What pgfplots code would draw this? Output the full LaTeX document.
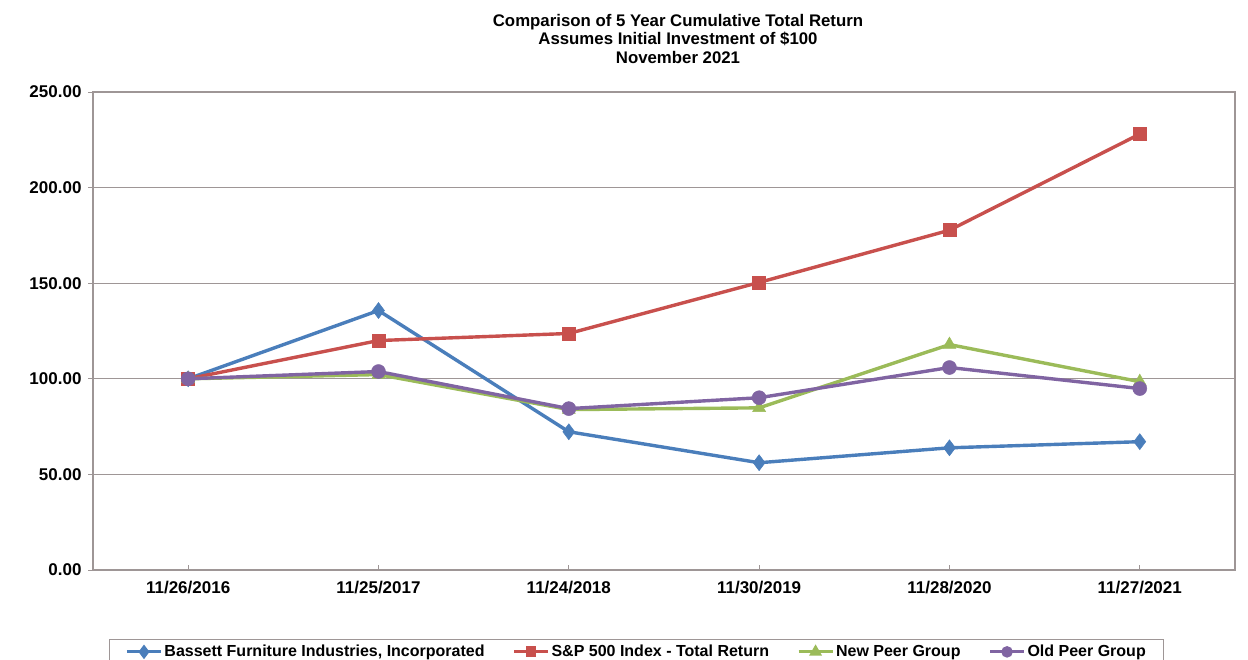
\documentclass[border=0pt]{standalone}
\usepackage{pgfplots}
\pgfplotsset{compat=1.18}
\usepackage{fontspec}
\setmainfont{Liberation Sans}
\definecolor{cblue}{HTML}{4A7EBB}
\definecolor{cred}{HTML}{C8504D}
\definecolor{cgreen}{HTML}{9BBB59}
\definecolor{cpurple}{HTML}{8064A2}
\definecolor{cgrid}{HTML}{9E9696}
\begin{document}
\begin{tikzpicture}[x=1pt,y=1pt]
\path[use as bounding box] (0,0) rectangle (1248,660);
\node[align=center, font=\bfseries\fontsize{16.8}{18.5}\selectfont] at (678,621) {Comparison of 5 Year Cumulative Total Return\\Assumes Initial Investment of \$100\\November 2021};
\begin{axis}[
  at={(93pt,90pt)}, anchor=south west,
  scale only axis, width=1142pt, height=478pt,
  xmin=-0.5, xmax=5.5, ymin=0, ymax=250,
  xtick={0,1,2,3,4,5},
  xticklabels={11/26/2016,11/25/2017,11/24/2018,11/30/2019,11/28/2020,11/27/2021},
  ytick={0,50,100,150,200,250},
  xtick pos=bottom, ytick pos=left,
  tick align=outside, major tick length=5pt,
  x tick style={yshift=5pt, cgrid, line width=0.8pt},
  y tick style={cgrid, line width=0.8pt},
  ymajorgrids, grid style={cgrid, line width=0.9pt},
  axis line style={cgrid, line width=1.2pt},
  /pgf/number format/.cd, fixed, fixed zerofill, precision=2, assume math mode=true,
  /pgfplots/.cd,
  ticklabel style={font=\bfseries\fontsize{17}{17}\selectfont},
  xticklabel style={yshift=-3pt},
  yticklabel style={xshift=-3pt},
  every axis plot/.append style={line width=3.4pt},
  legend columns=4,
  legend style={at={(0.014,-0.144)}, anchor=north west, draw=cgrid, line width=1pt,
    font=\bfseries\fontsize{16}{17}\selectfont, inner xsep=16pt, inner ysep=4pt,
    /tikz/every even column/.append style={column sep=26pt}},
  legend cell align=left,
  legend image code/.code={\draw[mark repeat=2,mark phase=2,line width=3pt,mark options={scale=0.6}] plot coordinates {(0pt,0pt) (17pt,0pt) (34pt,0pt)};},
]
\addplot[cblue, mark=diamond*, mark size=8pt, mark options={solid, line width=0.5pt}] coordinates {(0,100) (1,135.7) (2,72.3) (3,56.1) (4,63.9) (5,67.1)};
\addlegendentry{Bassett Furniture Industries, Incorporated}
\addplot[cred, mark=square*, mark size=6.5pt, mark options={solid, line width=0.5pt}] coordinates {(0,100) (1,120.0) (2,123.7) (3,150.4) (4,177.7) (5,228.0)};
\addlegendentry{S\&P 500 Index - Total Return}
\addplot[cgreen, mark=triangle*, mark size=7.5pt, mark options={solid, line width=0.5pt}] coordinates {(0,100) (1,102.2) (2,83.9) (3,84.8) (4,117.9) (5,98.5)};
\addlegendentry{New Peer Group}
\addplot[cpurple, mark=*, mark size=7pt, mark options={solid, line width=0.5pt}] coordinates {(0,100) (1,103.8) (2,84.4) (3,90.1) (4,105.9) (5,94.9)};
\addlegendentry{Old Peer Group}
\end{axis}
\end{tikzpicture}
\end{document}
